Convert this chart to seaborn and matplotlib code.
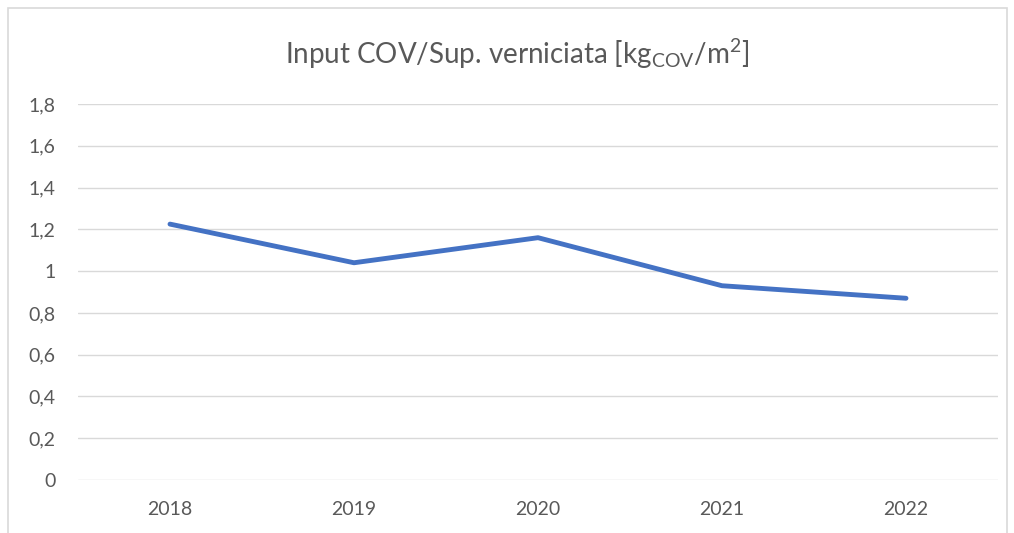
import matplotlib
matplotlib.use("Agg")
import matplotlib.pyplot as plt
import matplotlib.patches as patches
import pandas as pd
import seaborn as sns

# --- data ---
years = ["2018", "2019", "2020", "2021", "2022"]
cov_per_surface = [1.225, 1.04, 1.16, 0.93, 0.87]
y_ticks = [0, 0.2, 0.4, 0.6, 0.8, 1.0, 1.2, 1.4, 1.6, 1.8]
y_tick_labels = ["0", "0,2", "0,4", "0,6", "0,8", "1", "1,2", "1,4", "1,6", "1,8"]

df = pd.DataFrame({"year": years, "value": cov_per_surface})

sns.set_style("white")
plt.rcParams['font.family'] = ['Lato', 'DejaVu Sans']
plt.rcParams['mathtext.fontset'] = 'custom'
plt.rcParams['mathtext.rm'] = 'Lato'
plt.rcParams['mathtext.it'] = 'Lato'

text_color = "#595959"
grid_color = "#D9D9D9"

fig = plt.figure(figsize=(10.14, 5.33), dpi=100)
ax = fig.add_axes([78 / 1014, 1 - 480 / 533, 920 / 1014, 376 / 533])

sns.lineplot(data=df, x="year", y="value", ax=ax, color="#4472C4",
             linewidth=3.5, solid_capstyle="round", sort=False)

ax.set_xlim(-0.5, len(years) - 0.5)
ax.set_ylim(0, 1.8)
ax.set_yticks(y_ticks)
ax.set_yticklabels(y_tick_labels)
ax.yaxis.grid(True, color=grid_color, linewidth=1.0)
ax.set_axisbelow(True)
for s in ax.spines.values():
    s.set_visible(False)
ax.tick_params(axis="y", length=0, pad=16, labelsize=14, labelcolor=text_color)
ax.tick_params(axis="x", length=0, pad=15, labelsize=14, labelcolor=text_color)
ax.set_xlabel("")
ax.set_ylabel("")

fig.text(517 / 1014, 1 - 54 / 533,
         r"Input COV/Sup. verniciata [kg$_{\mathrm{COV}}$/m$^{2}$]",
         ha="center", va="center", fontsize=20, color=text_color)

# chart frame
frame = patches.Rectangle((8 / 1014, -0.05), 999 / 1014, 1.05 - 8 / 533,
                          transform=fig.transFigure, fill=False,
                          edgecolor=grid_color, linewidth=1.2)
fig.patches.append(frame)

fig.savefig("out.png", dpi=100)
